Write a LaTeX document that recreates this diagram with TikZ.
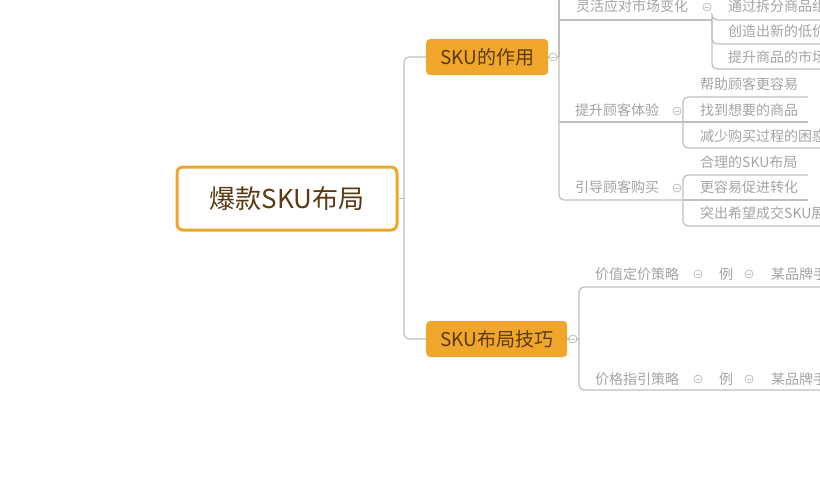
\documentclass[tikz,border=0pt]{standalone}
\usepackage{fontspec}
\setmainfont{Noto Sans CJK SC}
\usetikzlibrary{positioning}
\definecolor{mmorange}{HTML}{EFA62B}
\definecolor{mmbrown}{HTML}{5B3A12}
\definecolor{mmline}{HTML}{BCC1BC}
\definecolor{mmtext}{HTML}{A3A3A3}
\tikzset{
  rootbox/.style={draw=mmorange, line width=3pt, fill=white, rounded corners=6pt,
    minimum width=220pt, minimum height=63pt, inner sep=0pt, text=mmbrown,
    font=\fontsize{26}{26}\selectfont},
  mainbox/.style={fill=mmorange, rounded corners=4pt, minimum height=36pt, inner sep=0pt,
    anchor=west, text=mmbrown, font=\fontsize{19}{19}\selectfont},
  subtopic/.style={anchor=west, inner sep=0pt, text=mmtext, font=\fontsize{14}{14}\selectfont},
  fold/.style={circle, draw=mmline, line width=0.8pt, fill=white, minimum size=8pt, inner sep=0pt,
    path picture={\draw[mmline, line width=0.8pt] ([xshift=-2pt]path picture bounding box.center)
      -- ([xshift=2pt]path picture bounding box.center);}},
  branch/.style={draw=mmline, line width=1.2pt, rounded corners=5pt},
}
\begin{document}
\begin{tikzpicture}[x=1pt, y=-1pt]
\useasboundingbox (0,0) rectangle (820,480);
\clip (0,0) rectangle (820,480);
% root and main topics
\node[rootbox] (root) at (287,198.5) {爆款SKU布局};
\node[mainbox, minimum width=122pt] (role) at (426,57) {SKU的作用};
\node[mainbox, minimum width=141pt] (skill) at (426,339) {SKU布局技巧};
\node[fold] (role-f) at (553,57) {};
\node[fold] (skill-f) at (573,339) {};
\draw[branch] (root.east) -- (404,198.5) coordinate (root-j);
\draw[branch] (root-j) |- (role.west);
\draw[branch] (root-j) |- (skill.west);
\draw[branch] (role.east) -- (role-f.west);
\draw[branch] (skill.east) -- (skill-f.west);
% SKU的作用
\coordinate (role-j) at (559,57);
\draw[branch] (role-f.east) -- (role-j);
\draw[branch] (role-j) -- (559,-20);
\node[subtopic] (flex) at (576,6) {灵活应对市场变化};
\node[subtopic] (exp) at (575,110) {提升顾客体验};
\node[subtopic] (guide) at (575,187) {引导顾客购买};
\node[fold] (flex-f) at (707,7) {};
\node[fold] (exp-f) at (677,111) {};
\node[fold] (guide-f) at (677,188) {};
\coordinate (flex-r) at (712,20);
\coordinate (exp-r) at (683,122);
\coordinate (guide-r) at (683,200);
\draw[branch] (559,20) -- (flex-r);
\draw[branch] (559,122) -- (exp-r);
\draw[branch] (role-j) |- (guide-r);
% 灵活应对市场变化
\node[subtopic] (flex-1) at (728,6) {通过拆分商品组};
\node[subtopic] (flex-2) at (728,31) {创造出新的低价};
\node[subtopic] (flex-3) at (728,57) {提升商品的市场};
\draw[branch] (flex-r) |- (830,20);
\draw[branch] (flex-r) |- (830,44);
\draw[branch] (flex-r) |- (830,69);
% 提升顾客体验
\node[subtopic] (exp-1) at (700,84) {帮助顾客更容易};
\node[subtopic] (exp-2) at (700,110) {找到想要的商品};
\node[subtopic] (exp-3) at (700,136) {减少购买过程的困惑};
\draw[branch] (exp-r) |- (808,97);
\draw[branch] (exp-r) -- (808,122);
\draw[branch] (exp-r) |- (830,148);
% 引导顾客购买
\node[subtopic] (guide-1) at (700,162) {合理的SKU布局};
\node[subtopic] (guide-2) at (700,187) {更容易促进转化};
\node[subtopic] (guide-3) at (700,213) {突出希望成交SKU展};
\draw[branch] (guide-r) |- (808,175);
\draw[branch] (guide-r) -- (808,200);
\draw[branch] (guide-r) |- (830,226);
% SKU布局技巧
\coordinate (skill-j) at (579,339);
\draw[branch] (skill-f.east) -- (skill-j);
\node[subtopic] (value) at (595,274) {价值定价策略};
\node[fold] (value-f) at (698,274) {};
\node[subtopic] (value-eg) at (719,274) {例};
\node[fold] (value-egf) at (749,274) {};
\node[subtopic] (value-1) at (771,274) {某品牌手};
\node[subtopic] (price) at (595,379) {价格指引策略};
\node[fold] (price-f) at (698,379) {};
\node[subtopic] (price-eg) at (719,379) {例};
\node[fold] (price-egf) at (749,379) {};
\node[subtopic] (price-1) at (771,379) {某品牌手};
\draw[branch] (skill-j) |- (830,287);
\draw[branch] (skill-j) |- (830,390);
\end{tikzpicture}
\end{document}
